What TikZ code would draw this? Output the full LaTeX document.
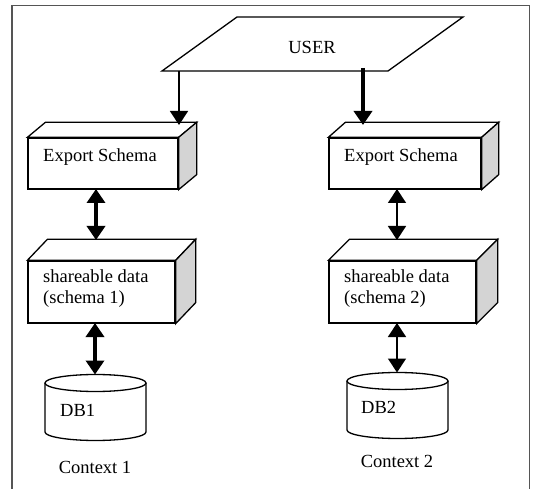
\documentclass[tikz,border=0pt]{standalone}
\usepackage{fontspec}
\setmainfont{Liberation Serif}
\usetikzlibrary{arrows.meta}

% draws the top and right faces of a solid slab behind a front node
\newcommand\slabfaces[3]{%
  \draw[face] (#1.north west) -- ++(#2,-#3) -- ([shift={(#2,-#3)}]#1.north east)
    -- (#1.north east) -- cycle;
  \draw[face, fill=sidegray] (#1.north east) -- ++(#2,-#3)
    -- ([shift={(#2,-#3)}]#1.south east) -- (#1.south east) -- cycle;
}
% draws a database drum on a node
\newcommand\drum[3]{%
  \draw[face] (#1.north west) -- (#1.south west)
    arc[start angle=180, end angle=0, x radius=#2, y radius=#3]
    -- (#1.north east);
  \draw[face] (#1.north) ellipse[x radius=#2, y radius=#3];
}

\definecolor{sidegray}{HTML}{D4D4D4}
\definecolor{framegray}{HTML}{555555}

\tikzset{
  face/.style={draw=black, line width=1.3pt, fill=white, line join=miter},
  front/.style={face, minimum width=#1, inner sep=0pt},
  hole/.style={inner sep=0pt, outer sep=0pt},
  txt/.style={font=\fontsize{18.5}{23}\selectfont, inner sep=0pt, anchor=west, text=black},
  ctr/.style={font=\fontsize{18.5}{23}\selectfont, inner sep=0pt, text=black},
  thinarrow/.style={line width=1.4pt, -{Triangle[width=18pt,length=14pt]}},
  thickarrow/.style={line width=4pt, -{Triangle[width=18pt,length=14pt]}},
  thinboth/.style={line width=1.4pt, {Triangle[width=18pt,length=14pt]}-{Triangle[width=18pt,length=14pt]}},
  thickboth/.style={line width=4pt, {Triangle[width=18pt,length=14pt]}-{Triangle[width=18pt,length=14pt]}},
}

\begin{document}
\begin{tikzpicture}[x=1pt, y=-1pt]
  \useasboundingbox (0,0) rectangle (533,489);

  % outer frame, open at the bottom
  \draw[framegray, line width=1.5pt] (12,489) -- (12,5.5) -- (529.5,5.5) -- (529.5,489);

  % user plane
  \draw[face] (237,17) -- (463,17) -- (388,71) -- (162,71) -- cycle;
  \node[ctr] (user) at (312,47) {USER};
  \coordinate (uL) at (179,71);
  \coordinate (uR) at (363,68);

  % export schemas
  \node[front=150pt, minimum height=51pt] (exL) at (103,163.5) {};
  \slabfaces{exL}{18}{15}
  \node[txt] (exLt) at (43,157) {Export Schema};

  \node[front=152pt, minimum height=51pt] (exR) at (405,163.5) {};
  \slabfaces{exR}{17}{15}
  \node[txt] (exRt) at (344,157) {Export Schema};

  % shareable data
  \node[front=147pt, minimum height=62pt] (shL) at (101.5,292) {};
  \slabfaces{shL}{20}{21}
  \node[txt] (shLt1) at (43,276) {shareable data};
  \node[txt] (shLt2) at (43,299) {(schema 1)};

  \node[front=147pt, minimum height=62pt] (shR) at (402.5,292) {};
  \slabfaces{shR}{21}{21}
  \node[txt] (shRt1) at (344,276) {shareable data};
  \node[txt] (shRt2) at (344,299) {(schema 2)};

  % databases
  \node[hole, minimum width=101pt, minimum height=49pt] (db1) at (95.5,407.5) {};
  \drum{db1}{50.5}{8.5}
  \node[txt] (db1t) at (60,410) {DB1};
  \node[ctr] (c1) at (95,467) {Context 1};

  \node[hole, minimum width=101pt, minimum height=49pt] (db2) at (397.5,405.5) {};
  \drum{db2}{50.5}{8.5}
  \node[txt] (db2t) at (361,407) {DB2};
  \node[ctr] (c2) at (397,461) {Context 2};

  % arrow end points
  \coordinate (exLin) at (179,125);
  \coordinate (exRin) at (363,125);
  \coordinate (exLout) at (96,189);
  \coordinate (shLin) at (96,240);
  \coordinate (exRout) at (397,189);
  \coordinate (shRin) at (397,240);
  \coordinate (shLout) at (95,323);
  \coordinate (db1in) at (95,374.5);
  \coordinate (shRout) at (397,323);
  \coordinate (db2in) at (397,372.5);

  % connectors
  \draw[thinarrow] (uL) -- (exLin);
  \draw[thickarrow] (uR) -- (exRin);
  \draw[thickboth] (exLout) -- (shLin);
  \draw[thinboth] (exRout) -- (shRin);
  \draw[thickboth] (shLout) -- (db1in);
  \draw[thinboth] (shRout) -- (db2in);
\end{tikzpicture}
\end{document}
